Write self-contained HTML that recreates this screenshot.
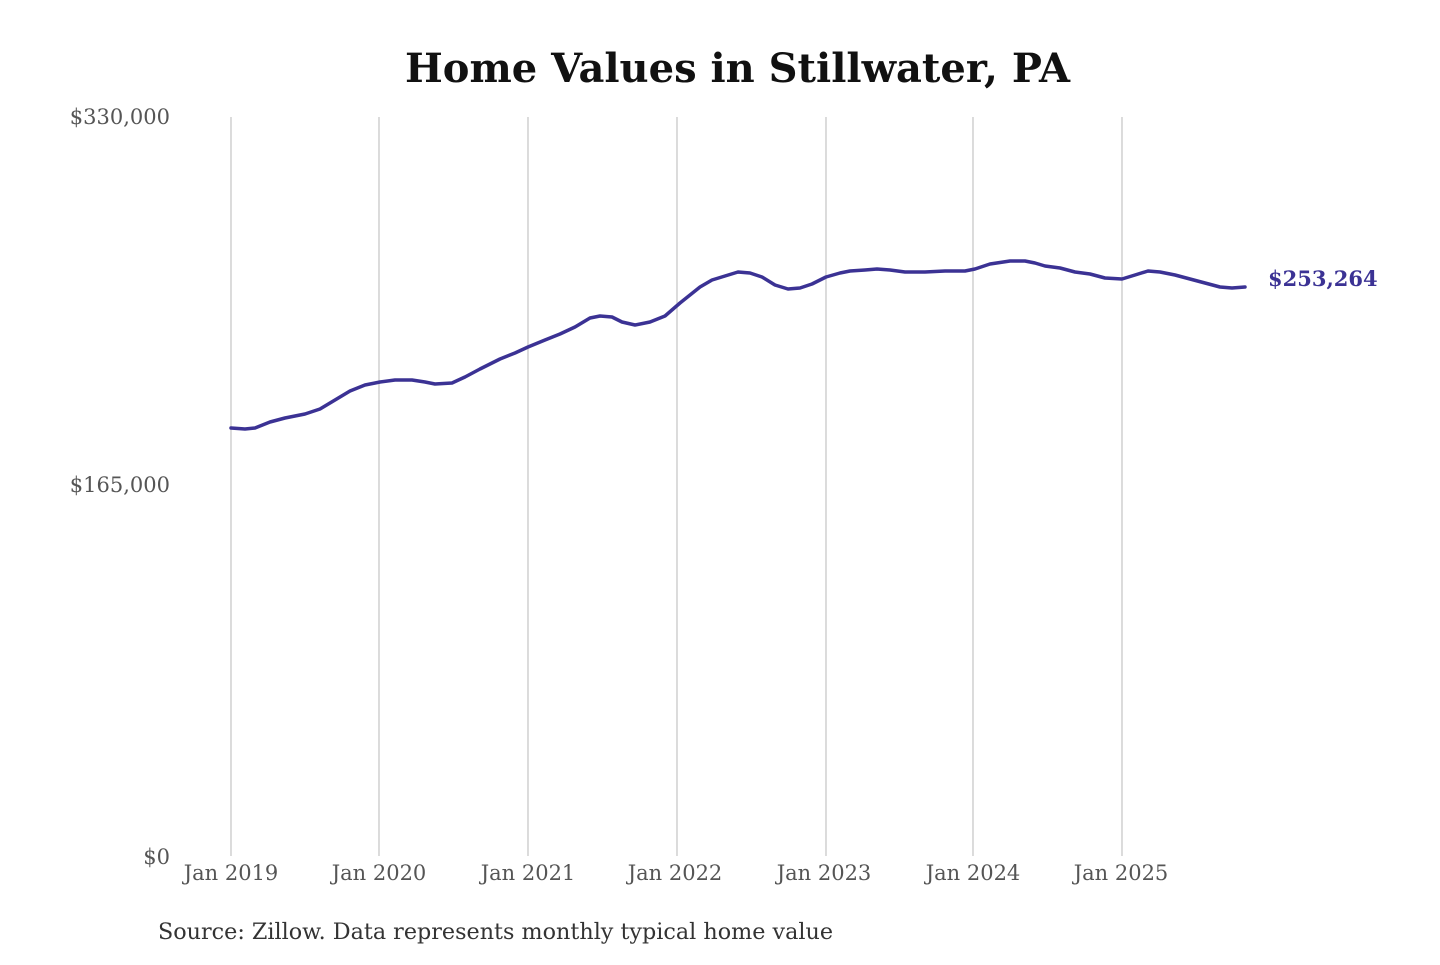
<!DOCTYPE html>
<html><head><meta charset="utf-8"><style>
body{margin:0;background:#fff;}
svg text{font-family:"DejaVu Serif","Liberation Serif",serif;}
</style></head><body>
<svg width="1440" height="960" viewBox="0 0 1440 960" xmlns="http://www.w3.org/2000/svg">
<text x="405" y="82" font-size="40" font-weight="bold" fill="#111" textLength="665" lengthAdjust="spacingAndGlyphs">Home Values in Stillwater, PA</text>
<g stroke="#c8c8c8" stroke-width="1.3">
<line x1="231" y1="117" x2="231" y2="856"/><line x1="379" y1="117" x2="379" y2="856"/>
<line x1="528" y1="117" x2="528" y2="856"/><line x1="677" y1="117" x2="677" y2="856"/>
<line x1="826" y1="117" x2="826" y2="856"/><line x1="973" y1="117" x2="973" y2="856"/>
<line x1="1122" y1="117" x2="1122" y2="856"/>
</g>
<g font-size="21" fill="#555" text-anchor="end">
<text x="170" y="124">$330,000</text><text x="170" y="492">$165,000</text><text x="170" y="864">$0</text>
</g>
<g font-size="21" fill="#555" text-anchor="middle">
<text x="231" y="880">Jan 2019</text><text x="379" y="880">Jan 2020</text><text x="528" y="880">Jan 2021</text>
<text x="675" y="880">Jan 2022</text><text x="824" y="880">Jan 2023</text><text x="973" y="880">Jan 2024</text><text x="1121" y="880">Jan 2025</text>
</g>
<polyline fill="none" stroke="#3b3294" stroke-width="3.5" stroke-linejoin="round" stroke-linecap="round" points="231,428 245,429 255,428 270,422 285,418 305,414 320,409 335,400 350,391 365,385 380,382 395,380 412,380 425,382 435,384 452,383 465,377 480,369 500,359 515,353 528,347 545,340 560,334 575,327 590,318 600,316 612,317 622,322 635,325 650,322 665,316 680,303 700,287 712,280 725,276 738,272 750,273 762,277 775,285 788,289 800,288 812,284 826,277 840,273 850,271 865,270 877,269 890,270 905,272 925,272 945,271 965,271 975,269 990,264 1010,261 1025,261 1035,263 1045,266 1060,268 1075,272 1090,274 1105,278 1122,279 1135,275 1148,271 1160,272 1175,275 1190,279 1205,283 1220,287 1232,288 1245,287"/>
<text x="1268" y="286" font-size="21" font-weight="bold" fill="#3b3294">$253,264</text>
<text x="158" y="939" font-size="22" fill="#333" textLength="675" lengthAdjust="spacingAndGlyphs">Source: Zillow. Data represents monthly typical home value</text>
</svg>
</body></html>
